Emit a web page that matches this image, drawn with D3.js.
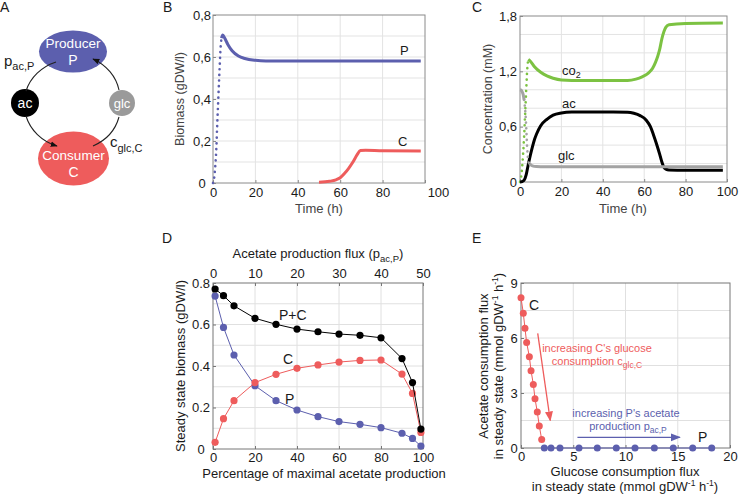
<!DOCTYPE html>
<html><head><meta charset="utf-8">
<script src="https://cdn.jsdelivr.net/npm/d3@7"></script>
<style>
body{margin:0;background:#fff}
svg{font-family:"Liberation Sans",Arial,Helvetica,sans-serif}
</style>
</head><body>
<svg id="c" width="740" height="494"></svg>
<script>
// ---------- Panel B: biomass over time ----------
const bTimeP = [0,0.5,1,1.5,2,2.5,3,3.5,4,4.6,5.5,7,9,12,15,20,25,98];
const bBiomassP = [0,0.02,0.07,0.15,0.28,0.4,0.52,0.63,0.69,0.705,0.69,0.66,0.63,0.605,0.593,0.584,0.581,0.581];
const bTimeC = [50,55,58,60,62,64,66,68,69.5,72,80,98];
const bBiomassC = [0.003,0.008,0.015,0.025,0.045,0.07,0.10,0.135,0.155,0.156,0.153,0.152];
const bXTicks = [0,20,40,60,80,100];
const bYTicks = [0,0.2,0.4,0.6,0.8];

// ---------- Panel C: concentrations over time ----------
const cTimeCO2 = [0,0.5,1,1.5,2,2.5,3,3.5,4,5,7,10,13,16,20,30,45,52,56,59,62,64,65.5,66.5,67.5,68.5,69.5,70.5,72,80,98];
const cCO2 = [0,0.05,0.15,0.3,0.5,0.75,1.0,1.22,1.33,1.31,1.25,1.19,1.15,1.125,1.107,1.1,1.1,1.1,1.115,1.14,1.18,1.23,1.3,1.36,1.44,1.55,1.63,1.68,1.705,1.72,1.725];
const cTimeAc = [0,1,2,3,4,5,6,7,8,10,13,16,20,25,35,45,52,55,58,61,63,64.5,66,67.5,68.5,69.5,70.5,72,80,98];
const cAc = [0,0.005,0.02,0.08,0.19,0.29,0.38,0.46,0.52,0.61,0.68,0.725,0.748,0.758,0.76,0.76,0.757,0.745,0.72,0.67,0.6,0.51,0.41,0.3,0.22,0.16,0.14,0.13,0.128,0.128];
const cTimeGlc = [0,0.5,1,1.5,2,2.5,3,3.5,4,4.5,5,6,8,12,98];
const cGlc = [1.0,0.995,0.98,0.95,0.89,0.78,0.6,0.36,0.23,0.2,0.19,0.175,0.168,0.166,0.166];
const cXTicks = [0,20,40,60,80,100];
const cYTicks = [0,0.6,1.2,1.8];

// ---------- Panel D: steady state biomass ----------
const dPercent = [1,5,10,20,30,40,50,60,70,80,90,95,99];
const dP  = [0.737,0.586,0.453,0.305,0.233,0.188,0.156,0.132,0.119,0.103,0.076,0.051,0.014];
const dC  = [0.032,0.146,0.233,0.320,0.360,0.389,0.405,0.419,0.427,0.429,0.361,0.268,0.080];
const dPC = [0.771,0.739,0.690,0.630,0.601,0.578,0.565,0.554,0.548,0.536,0.436,0.320,0.096];
const dXTicks = [0,20,40,60,80,100];
const dFluxTicks = [0,10,20,30,40,50];
const dYTicks = [0,0.2,0.4,0.6,0.8];

// ---------- Panel E: fluxes ----------
const eGlcC = [0,0.22,0.38,0.54,0.8,0.96,1.18,1.34,1.56,1.75,1.98];
const eAcC  = [8.2,7.35,6.53,5.75,4.98,4.22,3.47,2.69,1.96,1.2,0.47];
const eGlcP = [2.23,2.87,3.73,5.55,7.30,9.12,10.91,12.76,14.57,16.43,18.25];
const eAcP  = [0,0,0,0,0,0,0,0,0,0,0];
const eXTicks = [0,5,10,15,20];
const eYTicks = [0,3,6,9];

const BLUE = "#5c5fae", RED = "#ee5c5c", GREEN = "#7cc242", GREY = "#a3a3a3", BLACK = "#000";

const svg = d3.select("#c");
const defs = svg.append("defs");
function marker(id, color, size) {
  defs.append("marker").attr("id", id).attr("viewBox", "0 0 10 10")
    .attr("refX", 9).attr("refY", 5).attr("markerWidth", size).attr("markerHeight", size)
    .attr("orient", "auto").attr("markerUnits", "userSpaceOnUse")
    .append("path").attr("d", "M0,1 L10,5 L0,9 Z").attr("fill", color);
}
marker("arrK", "#111", 7);
marker("arrR", RED, 10);
marker("arrB", BLUE, 10);

const fmtComma = d => d === 0 ? "0" : d3.format(".1f")(d).replace(".", ",");
const fmtDot = d => d === 0 ? "0" : d3.format(".1f")(d);

function frame(o) {
  const g = svg.append("g");
  const [x0, x1] = o.x.range(), [y0, y1] = o.y.range();
  g.selectAll(null).data(o.xGrid).join("line")
    .attr("x1", d => o.x(d)).attr("x2", d => o.x(d)).attr("y1", y0).attr("y2", y1)
    .attr("stroke", o.grid).attr("stroke-width", 1);
  g.selectAll(null).data(o.yGrid).join("line")
    .attr("y1", d => o.y(d)).attr("y2", d => o.y(d)).attr("x1", x0).attr("x2", x1)
    .attr("stroke", o.grid).attr("stroke-width", 1);
  g.append("rect").attr("x", x0).attr("y", y1).attr("width", x1 - x0).attr("height", y0 - y1)
    .attr("fill", "none").attr("stroke", o.frame).attr("stroke-width", 1);
  const bx = g.append("g").attr("transform", `translate(0,${y0})`)
    .call(d3.axisBottom(o.x).tickValues(o.xTicks).tickFormat(o.xFmt).tickSize(-3).tickPadding(o.xPad || 5));
  const ly = g.append("g").attr("transform", `translate(${x0},0)`)
    .call(d3.axisLeft(o.y).tickValues(o.yTicks).tickFormat(o.yFmt).tickSize(-3).tickPadding(3));
  [bx, ly].forEach(a => {
    a.select(".domain").remove();
    a.selectAll(".tick line").attr("stroke", o.frame);
    a.selectAll("text").attr("font-size", 13).attr("fill", "#1a1a1a")
      .style("font-family", '"Liberation Sans",Arial,sans-serif');
  });
  if (o.yLabelCenter !== undefined) {
    ly.selectAll("text").attr("text-anchor", "middle").attr("x", -o.yLabelCenter);
  }
  return {g, bx, ly};
}

function curve(x, y, ts, vs, color, dot) {
  const pts = ts.map((t, i) => [t, vs[i]]);
  const line = d3.line().x(d => x(d[0])).y(d => y(d[1])).curve(d3.curveMonotoneX);
  svg.append("path")
    .attr("d", line.defined(d => !dot || !(d[0] > dot[0] && d[0] < dot[1]))(pts))
    .attr("fill", "none").attr("stroke", color).attr("stroke-width", 3).attr("stroke-linejoin", "round");
  if (dot) {
    const l2 = d3.line().x(d => x(d[0])).y(d => y(d[1])).curve(d3.curveMonotoneX)
      .defined(d => d[0] >= dot[0] && d[0] <= dot[1]);
    svg.append("path").attr("d", l2(pts))
      .attr("fill", "none").attr("stroke", color).attr("stroke-width", 2.6)
      .attr("stroke-linecap", "round").attr("stroke-dasharray", "0.1,5.6");
  }
}

function txt(x, y, s, opt = {}) {
  return svg.append("text").attr("x", x).attr("y", y).text(s)
    .attr("font-size", opt.size || 13).attr("fill", opt.fill || "#1a1a1a")
    .attr("text-anchor", opt.anchor || "start");
}

// ---------- Panel letters ----------
[["A", 0, 12], ["B", 163, 12], ["C", 472, 12], ["D", 162, 243], ["E", 472, 243]]
  .forEach(([s, x, y]) => txt(x, y, s, {size: 14}));

// ---------- Panel A diagram ----------
(function () {
  const g = svg.append("g");
  g.append("ellipse").attr("cx", 73).attr("cy", 51.5).attr("rx", 34).attr("ry", 21).attr("fill", BLUE);
  g.append("ellipse").attr("cx", 73.5).attr("cy", 158.5).attr("rx", 35.5).attr("ry", 27).attr("fill", RED);
  g.append("circle").attr("cx", 25).attr("cy", 103).attr("r", 14).attr("fill", "#000");
  g.append("circle").attr("cx", 122).attr("cy", 103).attr("r", 13).attr("fill", "#9a9a9a");
  const arcs = [
    ["M56,62 A48 44 0 0 0 26,91", null],
    ["M26,116 A48 44 0 0 0 57,146", "url(#arrK)"],
    ["M93,146 A48 44 0 0 0 119,117", null],
    ["M119,90 A48 44 0 0 0 93,59", "url(#arrK)"]
  ];
  arcs.forEach(([d, m]) => {
    const p = g.append("path").attr("d", d).attr("fill", "none").attr("stroke", "#222").attr("stroke-width", 1.1);
    if (m) p.attr("marker-end", m);
  });
  const w = (x, y, s, size) => g.append("text").attr("x", x).attr("y", y).attr("text-anchor", "middle")
    .attr("fill", "#fff").attr("font-size", size).text(s);
  w(73, 48, "Producer", 13.5); w(73, 65, "P", 14);
  w(73.5, 160, "Consumer", 13.5); w(73.5, 177, "C", 14);
  w(25, 108, "ac", 14); w(122, 108, "glc", 13);
  const t1 = g.append("text").attr("x", 4).attr("y", 66).attr("font-size", 15).attr("fill", "#1a1a1a");
  t1.append("tspan").text("p");
  t1.append("tspan").attr("dy", 4).attr("font-size", 11).text("ac,P");
  const t2 = g.append("text").attr("x", 110).attr("y", 147).attr("font-size", 15).attr("fill", "#1a1a1a");
  t2.append("tspan").text("c");
  t2.append("tspan").attr("dy", 5).attr("font-size", 11).text("glc,C");
})();

// ---------- Panel B ----------
(function () {
  const x = d3.scaleLinear().domain([0, 100]).range([213, 425]);
  const y = d3.scaleLinear().domain([0, 0.8]).range([183, 15]);
  const f = frame({x, y, xGrid: [20, 40, 60, 80], yGrid: [0.1, 0.2, 0.3, 0.4, 0.5, 0.6, 0.7],
    xTicks: bXTicks, yTicks: bYTicks, xFmt: d => d, yFmt: fmtComma,
    grid: "#e3e3e3", frame: "#8a8a8a", yLabelCenter: 11});
  f.bx.selectAll(".tick text").filter(d => d === 100).attr("dx", 13);
  curve(x, y, bTimeP, bBiomassP, BLUE, [0, 4]);
  curve(x, y, bTimeC, bBiomassC, RED, null);
  txt(400, 55, "P"); txt(398, 146, "C");
  txt(319, 213, "Time (h)", {anchor: "middle", fill: "#444"});
  svg.append("text").attr("transform", "translate(184,99) rotate(-90)").attr("text-anchor", "middle")
    .attr("font-size", 12.5).attr("fill", "#444").text("Biomass (gDW/l)");
})();

// ---------- Panel C ----------
(function () {
  const x = d3.scaleLinear().domain([0, 100]).range([520, 727]);
  const y = d3.scaleLinear().domain([0, 1.8]).range([182, 16]);
  frame({x, y, xGrid: [20, 40, 60, 80], yGrid: [0.2, 0.4, 0.6, 0.8, 1.0, 1.2, 1.4, 1.6],
    xTicks: cXTicks, yTicks: cYTicks, xFmt: d => d, yFmt: fmtComma,
    grid: "#e3e3e3", frame: "#8a8a8a"});
  curve(x, y, cTimeCO2, cCO2, GREEN, [0, 4]);
  curve(x, y, cTimeAc, cAc, BLACK, null);
  curve(x, y, cTimeGlc, cGlc, GREY, [2, 4.5]);
  const t = txt(562, 75, "co");
  t.append("tspan").attr("dy", 3).attr("font-size", 9).text("2");
  txt(562, 108, "ac"); txt(558, 160, "glc");
  txt(623, 213, "Time (h)", {anchor: "middle", fill: "#444"});
  svg.append("text").attr("transform", "translate(492,99) rotate(-90)").attr("text-anchor", "middle")
    .attr("font-size", 12.5).attr("fill", "#444").text("Concentration (mM)");
})();

// ---------- Panel D ----------
(function () {
  const x = d3.scaleLinear().domain([0, 100]).range([213, 423]);
  const xf = d3.scaleLinear().domain([0, 50]).range([213, 423]);
  const y = d3.scaleLinear().domain([0, 0.8]).range([449, 283]);
  const f = frame({x, y, xGrid: [20, 40, 60, 80], yGrid: [0.1, 0.2, 0.3, 0.4, 0.5, 0.6, 0.7],
    xTicks: dXTicks, yTicks: dYTicks, xFmt: d => d, yFmt: fmtDot,
    grid: "#e0e0e0", frame: "#777", yLabelCenter: 12, xPad: 4});
  const tx = f.g.append("g").attr("transform", "translate(0,283)")
    .call(d3.axisTop(xf).tickValues(dFluxTicks).tickSize(-3).tickPadding(5));
  tx.select(".domain").remove();
  tx.selectAll(".tick line").attr("stroke", "#777");
  tx.selectAll("text").attr("font-size", 13).attr("fill", "#1a1a1a");
  const series = [[dP, BLUE], [dC, RED], [dPC, BLACK]];
  series.forEach(([vals, col]) => {
    const pts = dPercent.map((p, i) => [p, vals[i]]);
    svg.append("path").attr("d", d3.line().x(d => x(d[0])).y(d => y(d[1]))(pts))
      .attr("fill", "none").attr("stroke", col).attr("stroke-width", 1);
    svg.append("g").selectAll("circle").data(pts).join("circle")
      .attr("cx", d => x(d[0])).attr("cy", d => y(d[1])).attr("r", 3.6).attr("fill", col);
  });
  txt(279, 320, "P+C", {size: 14}); txt(283, 364, "C", {size: 14}); txt(285, 404, "P", {size: 14});
  const tt = txt(318, 258, "Acetate production flux (p", {anchor: "middle"});
  tt.append("tspan").attr("dy", 4).attr("font-size", 9.5).text("ac,P");
  tt.append("tspan").attr("dy", -4).text(")");
  txt(324, 478, "Percentage of maximal acetate production", {anchor: "middle"});
  svg.append("text").attr("transform", "translate(185,366) rotate(-90)").attr("text-anchor", "middle")
    .attr("font-size", 13).attr("fill", "#1a1a1a").text("Steady state biomass (gDW/l)");
})();

// ---------- Panel E ----------
(function () {
  const x = d3.scaleLinear().domain([0, 20]).range([521, 730]);
  const y = d3.scaleLinear().domain([0, 9]).range([448, 283]);
  frame({x, y, xGrid: [5, 10, 15], yGrid: [1.5, 3, 4.5, 6, 7.5],
    xTicks: eXTicks, yTicks: eYTicks, xFmt: d => d, yFmt: d => d,
    grid: "#e0e0e0", frame: "#777", yLabelCenter: 7, xPad: 4});
  const series = [[eGlcC, eAcC, RED], [eGlcP, eAcP, BLUE]];
  series.forEach(([xs, ys, col]) => {
    const pts = xs.map((v, i) => [v, ys[i]]);
    svg.append("path").attr("d", d3.line().x(d => x(d[0])).y(d => y(d[1]))(pts))
      .attr("fill", "none").attr("stroke", col).attr("stroke-width", 1);
    svg.append("g").selectAll("circle").data(pts).join("circle")
      .attr("cx", d => x(d[0])).attr("cy", d => y(d[1])).attr("r", 3.5).attr("fill", col);
  });
  // annotation arrows
  svg.append("line").attr("x1", x(1.6)).attr("y1", y(6.25)).attr("x2", x(2.8)).attr("y2", y(1.5))
    .attr("stroke", RED).attr("stroke-width", 1.3).attr("marker-end", "url(#arrR)");
  svg.append("line").attr("x1", x(5.4)).attr("y1", y(0.58)).attr("x2", x(15.2)).attr("y2", y(0.58))
    .attr("stroke", BLUE).attr("stroke-width", 1.3).attr("marker-end", "url(#arrB)");
  txt(597, 352, "increasing C's glucose", {anchor: "middle", size: 11, fill: RED});
  const r2 = txt(597, 365, "consumption c", {anchor: "middle", size: 11, fill: RED});
  r2.append("tspan").attr("dy", 3).attr("font-size", 8.5).text("glc,C");
  txt(626, 417, "increasing P's acetate", {anchor: "middle", size: 11, fill: BLUE});
  const b2 = txt(628, 430, "production p", {anchor: "middle", size: 11, fill: BLUE});
  b2.append("tspan").attr("dy", 3).attr("font-size", 8.5).text("ac,P");
  txt(529, 310, "C", {size: 14}); txt(698, 442, "P", {size: 14});
  // axis titles
  function unitLine(t) {
    t.append("tspan").text("in steady state (mmol gDW");
    t.append("tspan").attr("dy", -5).attr("font-size", 8.5).text("-1");
    t.append("tspan").attr("dy", 5).text(" h");
    t.append("tspan").attr("dy", -5).attr("font-size", 8.5).text("-1");
    t.append("tspan").attr("dy", 5).text(")");
  }
  txt(625, 476, "Glucose consumption flux", {anchor: "middle"});
  unitLine(txt(625, 491, "", {anchor: "middle"}));
  svg.append("text").attr("transform", "translate(488,366) rotate(-90)").attr("text-anchor", "middle")
    .attr("font-size", 13).attr("fill", "#1a1a1a").text("Acetate consumption flux");
  unitLine(svg.append("text").attr("transform", "translate(503,366) rotate(-90)").attr("text-anchor", "middle")
    .attr("font-size", 13).attr("fill", "#1a1a1a"));
})();
</script>
</body></html>
